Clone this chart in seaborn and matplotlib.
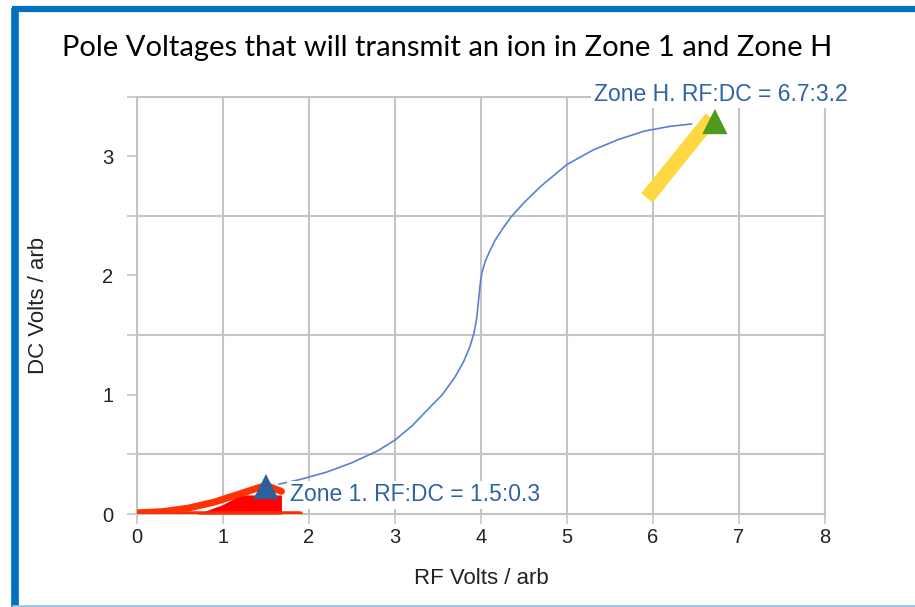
import numpy as np
import pandas as pd
import matplotlib.pyplot as plt
import seaborn as sns
from matplotlib.lines import Line2D

# transmission curve (blue)
curve_rf = [1.65, 1.9, 2.2, 2.5, 2.8, 3.0, 3.2, 3.4, 3.55, 3.7, 3.8, 3.87, 3.92, 3.95, 3.97, 3.99,
            4.01, 4.05, 4.1, 4.16, 4.25, 4.35, 4.5, 4.7, 5.0, 5.3, 5.6, 5.9, 6.2, 6.45]
curve_dc = [0.25, 0.29, 0.35, 0.43, 0.53, 0.62, 0.74, 0.89, 1.0, 1.15, 1.28, 1.40, 1.52, 1.64, 1.78, 1.92,
            2.02, 2.12, 2.2, 2.29, 2.39, 2.49, 2.61, 2.75, 2.93, 3.05, 3.14, 3.21, 3.25, 3.27]

# zone 1 region (red)
z1_edge_rf = [0.0, 0.3, 0.6, 0.9, 1.2, 1.5, 1.68]
z1_edge_dc = [0.01, 0.02, 0.05, 0.1, 0.17, 0.24, 0.19]
z1_fill_rf = [0.7, 1.0, 1.2, 1.6, 1.68]
z1_fill_dc = [0.0, 0.08, 0.16, 0.16, 0.16]
z1_base_rf = [0.0, 1.9]
z1_base_dc = [0.0, 0.0]

# zone H band (yellow)
zh_rf = [5.93, 6.68]
zh_dc = [2.65, 3.32]

# operating points
pts_rf = [1.5, 6.72]
pts_dc = [0.23, 3.29]
pts_color = ['#2f5f9b', '#4e9a1a']

labels = ['Zone 1. RF:DC = 1.5:0.3', 'Zone H. RF:DC = 6.7:3.2']

sns.set_theme(style="whitegrid")
plt.rcParams['font.family'] = ['Liberation Sans', 'DejaVu Sans']

fig = plt.figure(figsize=(9.15, 6.07), dpi=100)
ax = fig.add_axes([0.1497, 0.1532, 0.7519, 0.6878])
ax.set_facecolor('white')

grid_c = '#c4c4c4'

# red zone 1 shape
ax.fill_between(z1_fill_rf, 0, z1_fill_dc, color='#ff0000', lw=0, zorder=3)
sns.lineplot(x=z1_base_rf, y=z1_base_dc, ax=ax, color='#ff2a00', lw=4, sort=False, zorder=3)
sns.lineplot(x=z1_edge_rf, y=z1_edge_dc, ax=ax, color='#ff3300', lw=5, sort=False, zorder=3)

# yellow zone H band
band = sns.lineplot(x=zh_rf, y=zh_dc, ax=ax, color='#ffd740', lw=10.5, sort=False, zorder=3)
band.lines[-1].set_solid_capstyle('butt')

# blue curve
sns.lineplot(x=curve_rf, y=curve_dc, ax=ax, color='#5a80d6', lw=1.2, sort=False, zorder=4)

# labels
ax.text(1.78, 0.16, labels[0], color='#2f62a6', fontsize=16.5, va='center', ha='left',
        bbox=dict(facecolor='white', edgecolor='none', pad=2), zorder=5, clip_on=False)
ax.text(5.31, 3.52, labels[1], color='#2f62a6', fontsize=16.5, va='center', ha='left',
        bbox=dict(facecolor='white', edgecolor='none', pad=2), zorder=5, clip_on=False)

# triangles
pts = pd.DataFrame({'rf': pts_rf, 'dc': pts_dc, 'c': pts_color})
for _, r in pts.iterrows():
    sns.scatterplot(x=[r['rf']], y=[r['dc']], ax=ax, marker='^', s=330, color=r['c'],
                    edgecolor='none', zorder=6, clip_on=False)

ax.set_xlim(0, 8)
ax.set_ylim(0, 3.5)
ax.set_xticks(range(0, 9))
ax.set_yticks([0, 1, 2, 3])
ax.set_yticks(np.arange(0, 3.51, 0.5), minor=True)
ax.grid(False)
ax.grid(True, which='major', axis='x', color=grid_c, lw=1.5, zorder=0)
ax.grid(True, which='minor', axis='y', color=grid_c, lw=1.5, zorder=0)
ax.tick_params(axis='both', which='both', length=7, width=1.2, color=grid_c,
               labelsize=14.5, labelcolor='#222222', direction='out', bottom=True, left=True)
ax.tick_params(axis='x', pad=3)
ax.tick_params(axis='y', pad=10)
for s in ax.spines.values():
    s.set_color(grid_c)
    s.set_linewidth(1.5)
    s.set_zorder(0)

ax.set_xlabel('RF Volts / arb', fontsize=16, color='#222222', labelpad=15)
ax.set_ylabel('DC Volts / arb', fontsize=16, color='#222222', labelpad=38)

fig.text(62 / 915, 1 - 48 / 607, 'Pole Voltages that will transmit an ion in Zone 1 and Zone H',
         fontsize=21, family=['Lato', 'DejaVu Sans'], color='black', ha='left', va='center')

# slide frame
fig.add_artist(Line2D([15.5 / 915, 15.5 / 915], [0, 1 - 8 / 607], transform=fig.transFigure,
                      color='#0070c0', lw=5.5, solid_capstyle='butt'))
fig.add_artist(Line2D([12 / 915, 1], [1 - 9 / 607, 1 - 9 / 607], transform=fig.transFigure,
                      color='#0070c0', lw=4.5, solid_capstyle='butt'))
fig.add_artist(Line2D([12 / 915, 1], [1.5 / 607, 1.5 / 607], transform=fig.transFigure,
                      color='#9dc3e6', lw=2, solid_capstyle='butt'))

plt.savefig('out.png', dpi=100)
